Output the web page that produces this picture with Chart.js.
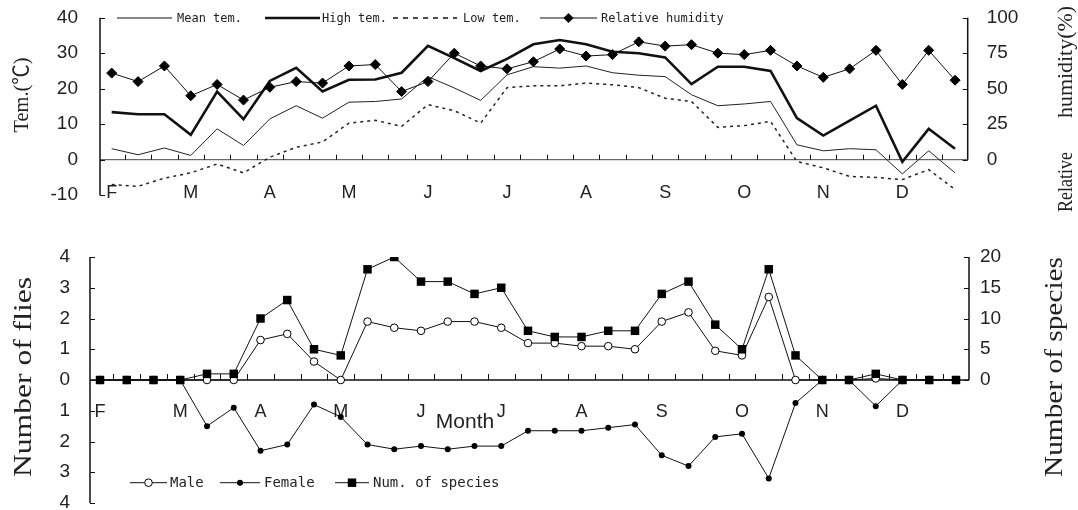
<!DOCTYPE html>
<html>
<head>
<meta charset="utf-8">
<script src="https://cdn.jsdelivr.net/npm/chart.js@4/dist/chart.umd.min.js"></script>
<style>
html,body{margin:0;padding:0;background:#fff;}
#wrap{position:relative;width:1078px;height:510px;overflow:hidden;}
#c1{position:absolute;left:0;top:0;}
#c2{position:absolute;left:0;top:215px;}
</style>
</head>
<body>
<div id="wrap">
<canvas id="c1" width="1078" height="215"></canvas>
<canvas id="c2" width="1078" height="295"></canvas>
</div>
<script>
// ---- data (10-day periods, 3 per month, Feb..Dec) ----
const monthLabels = ['F','M','A','M','J','J','A','S','O','N','D'];
const periodsPerMonth = 3;
const meanTem = [3.1,1.4,3.3,1.2,8.7,4.0,11.5,15.2,11.7,16.2,16.4,17.1,23.4,20.2,16.7,23.9,26.2,25.8,26.4,24.5,23.8,23.4,18.3,15.2,15.7,16.4,4.2,2.5,3.1,2.8,-4.0,2.5,-3.7];
const highTem = [13.4,12.8,12.8,7.0,19.2,11.4,22.2,25.9,19.2,22.5,22.6,24.5,32.1,28.6,25.0,28.4,32.5,33.7,32.5,30.4,30.0,28.8,21.3,26.2,26.2,25.0,11.7,6.8,11.0,15.2,-0.6,8.7,3.1];
const lowTem = [-7.0,-7.5,-5.2,-3.7,-1.2,-3.7,0.7,3.5,5.0,10.3,11.1,9.4,15.5,13.8,10.3,20.3,20.8,20.8,21.6,21.1,20.3,17.3,16.4,9.1,9.6,10.8,-0.5,-2.3,-4.7,-5.0,-5.6,-2.8,-8.4];
const humidity = [61,55,66,45,53,42,51,55,54,66,67,48,55,75,66,64,69,78,73,74,83,80,81,75,74,77,66,58,64,77,53,77,56];
const species = [0,0,0,0,1,1,10,13,5,4,18,20,16,16,14,15,8,7,7,8,8,14,16,9,5,18,4,0,0,1,0,0,0];
const male = [0,0,0,0,0,0,1.3,1.5,0.6,0,1.9,1.7,1.6,1.9,1.9,1.7,1.2,1.2,1.1,1.1,1.0,1.9,2.2,0.95,0.8,2.7,0,0,0,0.05,0,0,0];
const female = [0,0,0,0,-1.5,-0.9,-2.3,-2.1,-0.8,-1.2,-2.1,-2.25,-2.15,-2.25,-2.15,-2.15,-1.65,-1.65,-1.65,-1.55,-1.45,-2.45,-2.8,-1.85,-1.75,-3.2,-0.75,0,0,-0.85,0,0,0];

const SANS = '"Liberation Sans", Arial, sans-serif';
const SERIF = '"Liberation Serif", "Times New Roman", "Noto Sans CJK KR", serif';
const MONO = '"DejaVu Sans Mono", "Liberation Mono", monospace';
const pts = arr => arr.map((v, i) => ({x: i, y: v}));

function vTitle(ctx, text, cx, cy, size, len) {
  ctx.save();
  ctx.translate(cx, cy);
  ctx.rotate(-Math.PI / 2);
  ctx.font = size + 'px ' + SERIF;
  const w = ctx.measureText(text).width;
  ctx.scale(len / w, 1);
  ctx.fillStyle = '#222';
  ctx.textAlign = 'center';
  ctx.textBaseline = 'middle';
  ctx.fillText(text, 0, 0);
  ctx.restore();
}

function marker(ctx, style, x, y, r) {
  ctx.save();
  ctx.beginPath();
  if (style === 'diamond') {
    ctx.moveTo(x - r, y); ctx.lineTo(x, y - r); ctx.lineTo(x + r, y); ctx.lineTo(x, y + r); ctx.closePath();
    ctx.fillStyle = '#000'; ctx.fill();
  } else if (style === 'square') {
    const s = r * Math.SQRT1_2;
    ctx.rect(x - s, y - s, 2 * s, 2 * s);
    ctx.fillStyle = '#000'; ctx.fill();
  } else if (style === 'open') {
    ctx.arc(x, y, r, 0, 2 * Math.PI);
    ctx.fillStyle = '#fff'; ctx.fill();
    ctx.lineWidth = 1; ctx.strokeStyle = '#000'; ctx.stroke();
  } else if (style === 'dot') {
    ctx.arc(x, y, r, 0, 2 * Math.PI);
    ctx.fillStyle = '#000'; ctx.fill();
  }
  ctx.restore();
}

function legendItem(ctx, it, y, font) {
  ctx.save();
  ctx.strokeStyle = '#111';
  ctx.lineWidth = it.lw;
  ctx.setLineDash(it.dash || []);
  ctx.beginPath(); ctx.moveTo(it.x1, y); ctx.lineTo(it.x2, y); ctx.stroke();
  ctx.setLineDash([]);
  if (it.marker) marker(ctx, it.marker, (it.x1 + it.x2) / 2, y, it.r);
  ctx.font = font;
  ctx.fillStyle = '#222';
  ctx.textAlign = 'left';
  ctx.textBaseline = 'middle';
  ctx.fillText(it.text, it.tx, y + 1);
  ctx.restore();
}

const deco = {
  id: 'deco',
  beforeDatasetsDraw(chart, args, o) {
    const {ctx, chartArea: a, scales: {x, y}} = chart;
    const y0 = y.getPixelForValue(0);
    ctx.save();
    ctx.strokeStyle = o.zeroColor;
    ctx.lineWidth = o.zeroWidth;
    ctx.beginPath(); ctx.moveTo(a.left, y0); ctx.lineTo(a.right, y0); ctx.stroke();
    ctx.lineWidth = 1; ctx.strokeStyle = '#111';
    ctx.beginPath();
    for (let i = 0; i < o.n - 1; i++) {
      const px = Math.round(x.getPixelForValue(i + 0.5)) + 0.5;
      ctx.moveTo(px, y0); ctx.lineTo(px, y0 - o.tickH);
    }
    ctx.stroke();
    ctx.font = '18px ' + SANS;
    ctx.fillStyle = '#222';
    ctx.textAlign = 'center';
    ctx.textBaseline = 'middle';
    const my = y.getPixelForValue(o.monthAt) + o.monthDy;
    monthLabels.forEach((m, k) => ctx.fillText(m, x.getPixelForValue(k * periodsPerMonth), my));
    ctx.restore();
  },
  afterDraw(chart, args, o) {
    const {ctx, chartArea: a, scales} = chart;
    const y = scales.y, y2 = scales.y2;
    ctx.save();
    ctx.strokeStyle = '#111';
    ctx.lineWidth = 1.5;
    ctx.beginPath();
    ctx.moveTo(a.left, y.getPixelForValue(y.max)); ctx.lineTo(a.left, y.getPixelForValue(y.min));
    ctx.moveTo(a.right, y2.getPixelForValue(y2.max)); ctx.lineTo(a.right, y2.getPixelForValue(0));
    ctx.stroke();
    ctx.lineWidth = 1;
    ctx.beginPath();
    y.ticks.forEach(t => { const py = Math.round(y.getPixelForValue(t.value)) + 0.5; ctx.moveTo(a.left, py); ctx.lineTo(a.left + 5, py); });
    y2.ticks.forEach(t => { if (t.value < 0) return; const py = Math.round(y2.getPixelForValue(t.value)) + 0.5; ctx.moveTo(a.right, py); ctx.lineTo(a.right - 5, py); });
    ctx.stroke();
    ctx.restore();
    o.titles.forEach(t => vTitle(ctx, t.text, t.cx, t.cy, t.size, t.len));
    o.legend.forEach(it => legendItem(ctx, it, o.legendY, o.legendFont));
    if (o.month) {
      ctx.save();
      ctx.font = '21px ' + SANS;
      ctx.fillStyle = '#222';
      ctx.textAlign = 'center';
      ctx.textBaseline = 'middle';
      ctx.fillText('Month', o.month.x, o.month.y);
      ctx.restore();
    }
  }
};

const tickFont = {family: SANS, size: 19};

// ---------------- top chart ----------------
new Chart(document.getElementById('c1'), {
  type: 'line',
  data: {
    datasets: [
      {label: 'Relative humidity', data: pts(humidity), yAxisID: 'y2', order: 0,
       borderColor: '#111', borderWidth: 1, pointStyle: 'rectRot', pointRadius: 5,
       pointBackgroundColor: '#000', pointBorderColor: '#000', pointBorderWidth: 1, tension: 0},
      {label: 'High tem.', data: pts(highTem), yAxisID: 'y', order: 1,
       borderColor: '#111', borderWidth: 2.6, pointRadius: 0, tension: 0},
      {label: 'Mean tem.', data: pts(meanTem), yAxisID: 'y', order: 2,
       borderColor: '#222', borderWidth: 1, pointRadius: 0, tension: 0},
      {label: 'Low tem.', data: pts(lowTem), yAxisID: 'y', order: 3,
       borderColor: '#222', borderWidth: 1.5, borderDash: [3, 4], pointRadius: 0, tension: 0}
    ]
  },
  options: {
    responsive: false, animation: false, events: [],
    layout: {padding: {top: 17.7, bottom: 19.8, left: 0, right: 0}},
    plugins: {
      legend: {display: false}, tooltip: {enabled: false},
      deco: {
        n: meanTem.length, zeroColor: '#444', zeroWidth: 1, tickH: 5, monthAt: -10, monthDy: -2,
        titles: [
          {text: 'Tem.(℃)', cx: 22, cy: 95, size: 21, len: 75},
          {text: 'humidity(%)', cx: 1066, cy: 62, size: 22, len: 112},
          {text: 'Relative', cx: 1066, cy: 182, size: 22, len: 60}
        ],
        legendY: 18, legendFont: '12px ' + MONO,
        legend: [
          {x1: 117, x2: 172, lw: 1, text: 'Mean tem.', tx: 177},
          {x1: 265, x2: 320, lw: 2.6, text: 'High tem.', tx: 322},
          {x1: 393, x2: 457, lw: 1.5, dash: [5, 5], text: 'Low tem.', tx: 463},
          {x1: 540, x2: 597, lw: 1, marker: 'diamond', r: 5, text: 'Relative humidity', tx: 601}
        ]
      }
    },
    scales: {
      x: {type: 'linear', min: -0.444, max: 32.48, display: false},
      y: {position: 'left', min: -10, max: 40,
          afterFit(s) { s.width = 100; s.paddingTop = 0; s.paddingBottom = 0; },
          grid: {display: false, drawTicks: false}, border: {display: false},
          ticks: {stepSize: 10, padding: 22, font: tickFont, color: '#222'}},
      y2: {position: 'right', min: -25, max: 100,
          afterFit(s) { s.width = 110.3; s.paddingTop = 0; s.paddingBottom = 0; },
          grid: {display: false, drawTicks: false}, border: {display: false},
          ticks: {stepSize: 25, padding: 19, font: tickFont, color: '#222', callback: v => v < 0 ? '' : v}}
    }
  },
  plugins: [deco]
});

// ---------------- bottom chart ----------------
new Chart(document.getElementById('c2'), {
  type: 'line',
  data: {
    datasets: [
      {label: 'Num. of species', data: pts(species), yAxisID: 'y2', order: 0,
       borderColor: '#111', borderWidth: 1, pointStyle: 'rect', pointRadius: 6,
       pointBackgroundColor: '#000', pointBorderColor: '#000', pointBorderWidth: 0, tension: 0},
      {label: 'Male', data: pts(male), yAxisID: 'y', order: 1,
       borderColor: '#111', borderWidth: 1, pointStyle: 'circle', pointRadius: 3.8,
       pointBackgroundColor: '#fff', pointBorderColor: '#000', pointBorderWidth: 1, tension: 0},
      {label: 'Female', data: pts(female), yAxisID: 'y', order: 2,
       borderColor: '#111', borderWidth: 1, pointStyle: 'circle', pointRadius: 3,
       pointBackgroundColor: '#000', pointBorderColor: '#000', pointBorderWidth: 0, tension: 0}
    ]
  },
  options: {
    responsive: false, animation: false, events: [],
    layout: {padding: {top: 42, bottom: 7, left: 0, right: 0}},
    plugins: {
      legend: {display: false}, tooltip: {enabled: false},
      deco: {
        n: species.length, zeroColor: '#111', zeroWidth: 1.5, tickH: 6, monthAt: -1, monthDy: 1,
        titles: [
          {text: 'Number of flies', cx: 24, cy: 162, size: 25, len: 200},
          {text: 'Number of species', cx: 1055, cy: 152, size: 25, len: 220}
        ],
        legendY: 267.7, legendFont: '14px ' + MONO,
        legend: [
          {x1: 130, x2: 167, lw: 1, marker: 'open', r: 3.8, text: 'Male', tx: 170},
          {x1: 220, x2: 260, lw: 1, marker: 'dot', r: 3, text: 'Female', tx: 264},
          {x1: 335, x2: 369, lw: 1, marker: 'square', r: 6, text: 'Num. of species', tx: 373}
        ],
        month: {x: 465, y: 207}
      }
    },
    scales: {
      x: {type: 'linear', min: -0.374, max: 32.486, display: false},
      y: {position: 'left', min: -4, max: 4,
          afterFit(s) { s.width = 90; s.paddingTop = 0; s.paddingBottom = 0; },
          grid: {display: false, drawTicks: false}, border: {display: false},
          ticks: {stepSize: 1, padding: 20, font: tickFont, color: '#222', callback: v => Math.abs(v)}},
      y2: {position: 'right', min: -20, max: 20,
          afterFit(s) { s.width = 109; s.paddingTop = 0; s.paddingBottom = 0; },
          grid: {display: false, drawTicks: false}, border: {display: false},
          ticks: {stepSize: 5, padding: 11, font: tickFont, color: '#222', callback: v => v < 0 ? '' : v}}
    }
  },
  plugins: [deco]
});
</script>
</body>
</html>
